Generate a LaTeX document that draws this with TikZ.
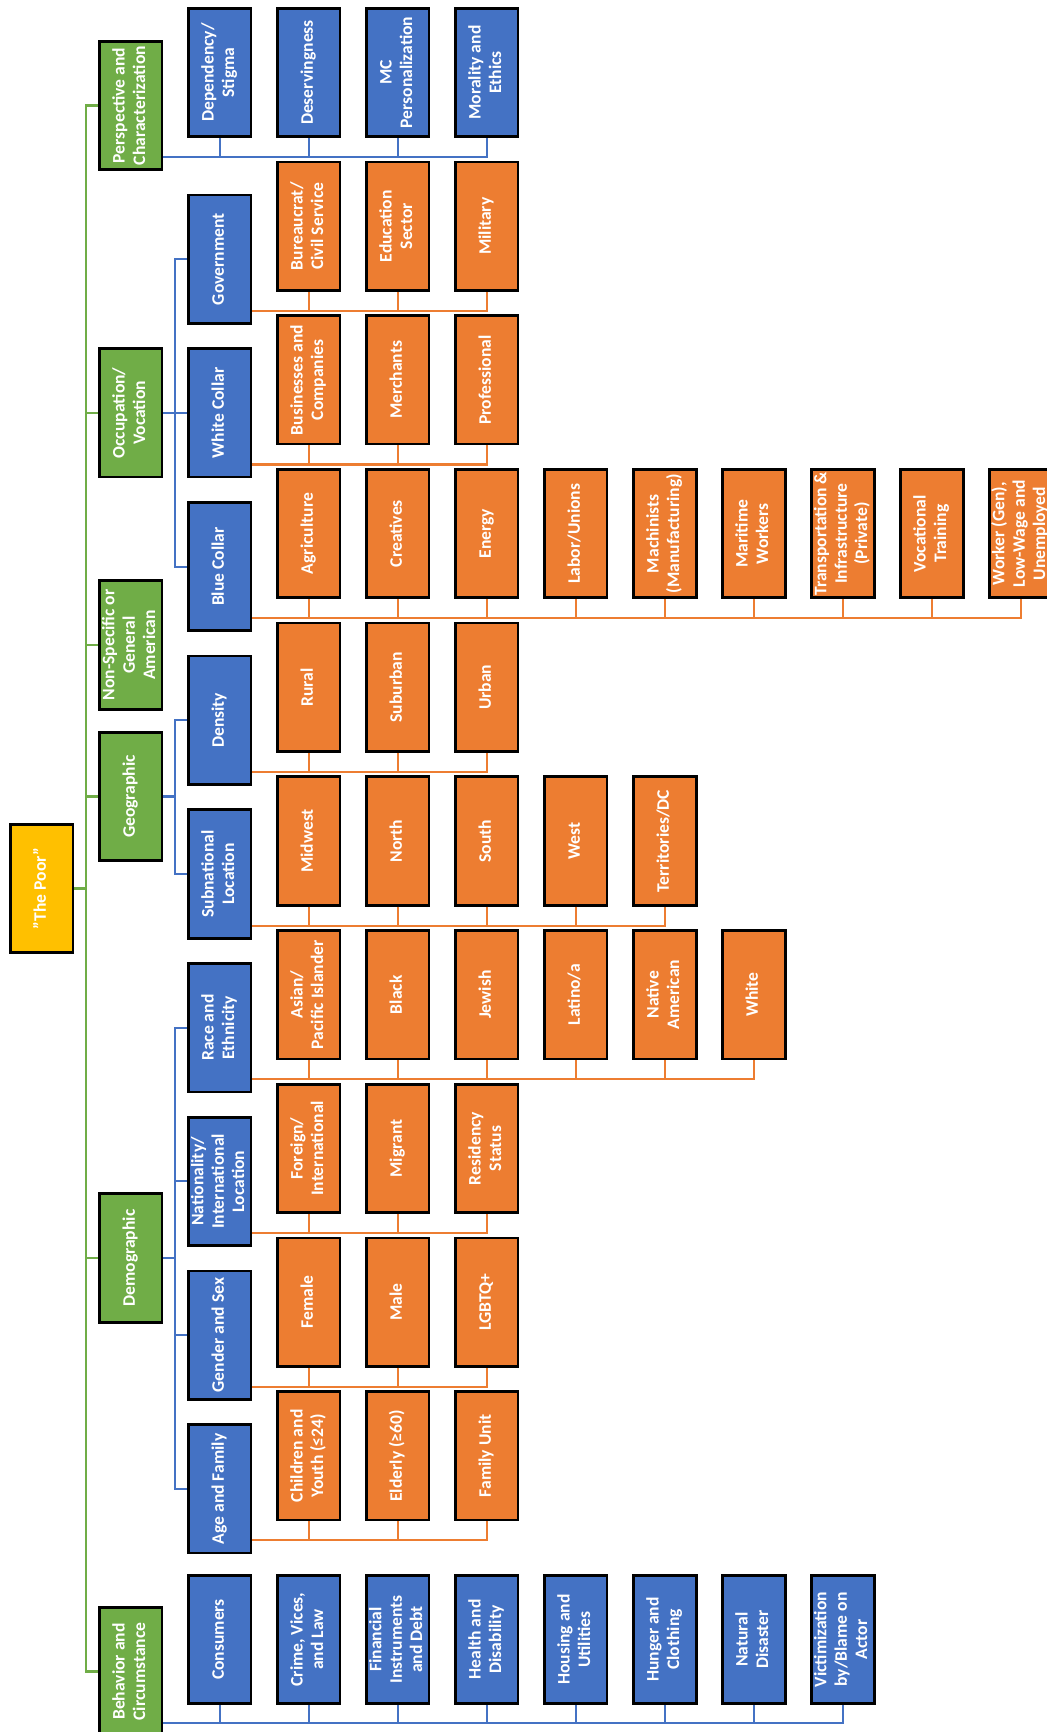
\documentclass[tikz,border=0pt]{standalone}
\usepackage{fontspec}
\setmainfont{Carlito}
\usepackage{graphicx}
\definecolor{poorgold}{HTML}{FFC000}
\definecolor{catgreen}{HTML}{70AD47}
\definecolor{subblue}{HTML}{4472C4}
\definecolor{leaforange}{HTML}{ED7D31}
\newcommand{\vt}[1]{\rotatebox{90}{\begin{tabular}{@{}c@{}}#1\end{tabular}}}

\begin{document}
\begin{tikzpicture}[x=0.025cm,y=-0.025cm,
  every node/.style={font=\bfseries\fontsize{12.5}{14.5}\selectfont,text=white},
  box/.style={draw=black,line width=1.9pt,inner sep=0.5pt,minimum width=1.57cm,minimum height=3.21cm},
  poor/.style={box,fill=poorgold},
  grp/.style={box,fill=catgreen},
  blu/.style={box,fill=subblue},
  org/.style={box,fill=leaforange},
  gl/.style={catgreen,line width=1.5pt},
  bl/.style={subblue,line width=1.5pt},
  ol/.style={leaforange,line width=1.5pt}]
\path[use as bounding box] (0,0) rectangle (1047,1732);
\clip (0,0) rectangle (1047,1732);
% root and first level
\node[poor] (p) at (41.75,888.5) {\vt{"The Poor"}};
\node[grp] (pc) at (130.75,105.5) {\vt{Perspective and\\Characterization}};
\node[grp] (oc) at (130.75,412.9) {\vt{Occupation/\\Vocation}};
\node[grp] (ns) at (130.75,645) {\vt{Non-Specific or\\General\\American}};
\node[grp] (ge) at (130.75,796.5) {\vt{Geographic}};
\node[grp] (de) at (130.75,1258) {\vt{Demographic}};
\node[grp] (bh) at (130.75,1671.5) {\vt{Behavior and\\Circumstance}};
% second level
\node[blu] (gv) at (219.75,259.2) {\vt{Government}};
\node[blu] (wc) at (219.75,412.9) {\vt{White Collar}};
\node[blu] (bc) at (219.75,566.6) {\vt{Blue Collar}};
\node[blu] (dn) at (219.75,720.3) {\vt{Density}};
\node[blu] (sl) at (219.75,874.0) {\vt{Subnational\\Location}};
\node[blu] (re) at (219.75,1027.7) {\vt{Race and\\Ethnicity}};
\node[blu] (na) at (219.75,1181.4) {\vt{Nationality/\\International\\Location}};
\node[blu] (gs) at (219.75,1335.1) {\vt{Gender and Sex}};
\node[blu] (af) at (219.75,1488.8) {\vt{Age and Family}};
% perspective row
\node[blu] (pc1) at (219.75,72.5) {\vt{Dependency/\\Stigma}};
\node[blu] (pc2) at (308.75,72.5) {\vt{Deservingness}};
\node[blu] (pc3) at (397.75,72.5) {\vt{MC\\Personalization}};
\node[blu] (pc4) at (486.75,72.5) {\vt{Morality and\\Ethics}};
% occupation rows
\node[org] (gv1) at (308.75,226.2) {\vt{Bureaucrat/\\Civil Service}};
\node[org] (gv2) at (397.75,226.2) {\vt{Education\\Sector}};
\node[org] (gv3) at (486.75,226.2) {\vt{Military}};
\node[org] (wc1) at (308.75,379.9) {\vt{Businesses and\\Companies}};
\node[org] (wc2) at (397.75,379.9) {\vt{Merchants}};
\node[org] (wc3) at (486.75,379.9) {\vt{Professional}};
\node[org] (bc1) at (308.75,533.6) {\vt{Agriculture}};
\node[org] (bc2) at (397.75,533.6) {\vt{Creatives}};
\node[org] (bc3) at (486.75,533.6) {\vt{Energy}};
\node[org] (bc4) at (575.75,533.6) {\vt{Labor/Unions}};
\node[org] (bc5) at (664.75,533.6) {\vt{Machinists\\(Manufacturing)}};
\node[org] (bc6) at (753.75,533.6) {\vt{Maritime\\Workers}};
\node[org] (bc7) at (842.75,533.6) {\vt{Transportation \&\\Infrastructure\\(Private)}};
\node[org] (bc8) at (931.75,533.6) {\vt{Vocational\\Training}};
\node[org] (bc9) at (1020.75,533.6) {\vt{Worker (Gen),\\Low-Wage and\\Unemployed}};
% geographic rows
\node[org] (dn1) at (308.75,687.3) {\vt{Rural}};
\node[org] (dn2) at (397.75,687.3) {\vt{Suburban}};
\node[org] (dn3) at (486.75,687.3) {\vt{Urban}};
\node[org] (sl1) at (308.75,841.0) {\vt{Midwest}};
\node[org] (sl2) at (397.75,841.0) {\vt{North}};
\node[org] (sl3) at (486.75,841.0) {\vt{South}};
\node[org] (sl4) at (575.75,841.0) {\vt{West}};
\node[org] (sl5) at (664.75,841.0) {\vt{Territories/DC}};
% demographic rows
\node[org] (re1) at (308.75,994.7) {\vt{Asian/\\Pacific Islander}};
\node[org] (re2) at (397.75,994.7) {\vt{Black}};
\node[org] (re3) at (486.75,994.7) {\vt{Jewish}};
\node[org] (re4) at (575.75,994.7) {\vt{Latino/a}};
\node[org] (re5) at (664.75,994.7) {\vt{Native\\American}};
\node[org] (re6) at (753.75,994.7) {\vt{White}};
\node[org] (na1) at (308.75,1148.4) {\vt{Foreign/\\International}};
\node[org] (na2) at (397.75,1148.4) {\vt{Migrant}};
\node[org] (na3) at (486.75,1148.4) {\vt{Residency\\Status}};
\node[org] (gs1) at (308.75,1302.1) {\vt{Female}};
\node[org] (gs2) at (397.75,1302.1) {\vt{Male}};
\node[org] (gs3) at (486.75,1302.1) {\vt{LGBTQ+}};
\node[org] (af1) at (308.75,1455.8) {\vt{Children and\\Youth (≤24)}};
\node[org] (af2) at (397.75,1455.8) {\vt{Elderly (≥60)}};
\node[org] (af3) at (486.75,1455.8) {\vt{Family Unit}};
% behavior row
\node[blu] (bh1) at (219.75,1639.5) {\vt{Consumers}};
\node[blu] (bh2) at (308.75,1639.5) {\vt{Crime, Vices,\\and Law}};
\node[blu] (bh3) at (397.75,1639.5) {\vt{Financial\\Instruments\\and Debt}};
\node[blu] (bh4) at (486.75,1639.5) {\vt{Health and\\Disability}};
\node[blu] (bh5) at (575.75,1639.5) {\vt{Housing and\\Utilities}};
\node[blu] (bh6) at (664.75,1639.5) {\vt{Hunger and\\Clothing}};
\node[blu] (bh7) at (753.75,1639.5) {\vt{Natural\\Disaster}};
\node[blu] (bh8) at (842.75,1639.5) {\vt{Victimization\\by/Blame on\\Actor}};
% green trunk
\draw[gl] (pc.west) -- ++(-12,0) coordinate (tk) |- (bh.west);
\draw[gl] (p.east) -- (p.east -| tk); \draw[gl] (oc.west) -- (oc.west -| tk);
\draw[gl] (ns.west) -- (ns.west -| tk); \draw[gl] (ge.west) -- (ge.west -| tk);
\draw[gl] (de.west) -- (de.west -| tk);
% blue trunks
\draw[bl] (gv.west) -- ++(-12,0) |- (bc.west); \draw[bl] (oc.east) -- (wc.west);
\draw[bl] (dn.west) -- ++(-12,0) coordinate (gk) |- (sl.west); \draw[bl] (ge.east) -- (ge.east -| gk);
\draw[bl] (re.west) -- ++(-12,0) coordinate (dk) |- (af.west); \draw[bl] (de.east) -- (de.east -| dk);
\draw[bl] (na.west) -- (na.west -| dk); \draw[bl] (gs.west) -- (gs.west -| dk);
% blue buses
\draw[bl] (pc.south east) ++(0,-14) coordinate (pb) -| (pc4.south);
\draw[bl] (pc1.south) -- (pc1 |- pb) (pc2.south) -- (pc2 |- pb) (pc3.south) -- (pc3 |- pb);
\draw[bl] (bh.south east) ++(0,-14) coordinate (hb) -| (bh8.south);
\draw[bl] (bh1.south) -- (bh1 |- hb) (bh2.south) -- (bh2 |- hb) (bh3.south) -- (bh3 |- hb) (bh4.south) -- (bh4 |- hb);
\draw[bl] (bh5.south) -- (bh5 |- hb) (bh6.south) -- (bh6 |- hb) (bh7.south) -- (bh7 |- hb);
% orange buses
\draw[ol] (gv.south east) ++(0,-14) coordinate (gb) -| (gv3.south);
\draw[ol] (gv1.south) -- (gv1 |- gb) (gv2.south) -- (gv2 |- gb);
\draw[ol] (wc.south east) ++(0,-14) coordinate (wb) -| (wc3.south);
\draw[ol] (wc1.south) -- (wc1 |- wb) (wc2.south) -- (wc2 |- wb);
\draw[ol] (bc.south east) ++(0,-14) coordinate (bb) -| (bc9.south);
\draw[ol] (bc1.south) -- (bc1 |- bb) (bc2.south) -- (bc2 |- bb) (bc3.south) -- (bc3 |- bb) (bc4.south) -- (bc4 |- bb);
\draw[ol] (bc5.south) -- (bc5 |- bb) (bc6.south) -- (bc6 |- bb) (bc7.south) -- (bc7 |- bb) (bc8.south) -- (bc8 |- bb);
\draw[ol] (dn.south east) ++(0,-14) coordinate (db) -| (dn3.south);
\draw[ol] (dn1.south) -- (dn1 |- db) (dn2.south) -- (dn2 |- db);
\draw[ol] (sl.south east) ++(0,-14) coordinate (sb) -| (sl5.south);
\draw[ol] (sl1.south) -- (sl1 |- sb) (sl2.south) -- (sl2 |- sb) (sl3.south) -- (sl3 |- sb) (sl4.south) -- (sl4 |- sb);
\draw[ol] (re.south east) ++(0,-14) coordinate (rb) -| (re6.south);
\draw[ol] (re1.south) -- (re1 |- rb) (re2.south) -- (re2 |- rb) (re3.south) -- (re3 |- rb) (re4.south) -- (re4 |- rb) (re5.south) -- (re5 |- rb);
\draw[ol] (na.south east) ++(0,-14) coordinate (nb) -| (na3.south);
\draw[ol] (na1.south) -- (na1 |- nb) (na2.south) -- (na2 |- nb);
\draw[ol] (gs.south east) ++(0,-14) coordinate (sx) -| (gs3.south);
\draw[ol] (gs1.south) -- (gs1 |- sx) (gs2.south) -- (gs2 |- sx);
\draw[ol] (af.south east) ++(0,-14) coordinate (ab) -| (af3.south);
\draw[ol] (af1.south) -- (af1 |- ab) (af2.south) -- (af2 |- ab);
\end{tikzpicture}
\end{document}
